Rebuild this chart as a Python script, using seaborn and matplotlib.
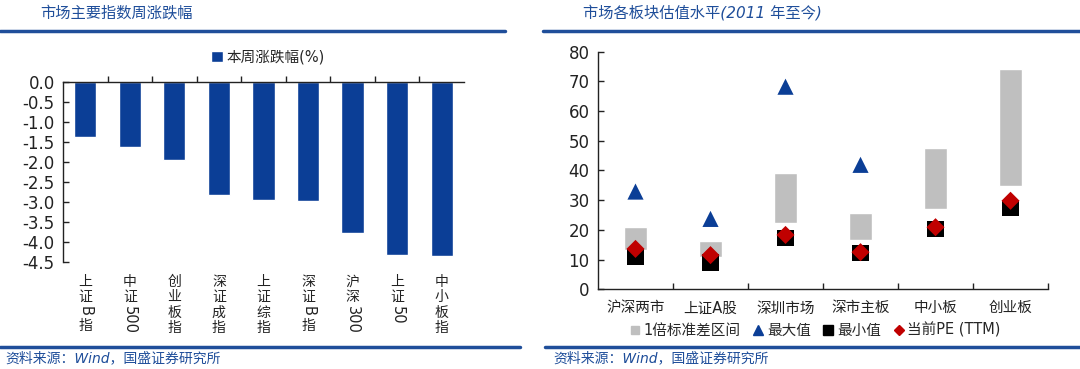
import re
import numpy as np
import pandas as pd
import matplotlib
matplotlib.use("Agg")
import matplotlib.pyplot as plt
import matplotlib.transforms as mtransforms
from matplotlib.font_manager import FontProperties
import seaborn as sns
from matplotlib.lines import Line2D

# ---------------- data ----------------
idx_names = ["上证B指", "中证500", "创业板指", "深证成指", "上证综指", "深证B指", "沪深300", "上证50", "中小板指"]
idx_change = [-1.38, -1.63, -1.95, -2.84, -2.95, -2.97, -3.79, -4.33, -4.35]
left_yticks = [0.0, -0.5, -1.0, -1.5, -2.0, -2.5, -3.0, -3.5, -4.0, -4.5]

boards = ["沪深两市", "上证A股", "深圳市场", "深市主板", "中小板", "创业板"]
std_low = [13.2, 10.8, 22.4, 16.6, 26.9, 34.8]
std_high = [21.1, 16.3, 39.0, 25.8, 47.5, 74.0]
pe_max = [32.9, 23.7, 68.2, 41.9, np.nan, np.nan]
pe_min = [11.0, 9.0, 17.2, 12.1, 20.2, 27.3]
pe_now = [13.6, 11.5, 18.3, 12.5, 20.9, 29.8]
right_yticks = [0, 10, 20, 30, 40, 50, 60, 70, 80]

# ---------------- style ----------------
sns.set_theme(style="white")
plt.rcParams['font.family'] = ['DejaVu Sans', 'Noto Sans CJK SC']
plt.rcParams['axes.unicode_minus'] = False

BLUE = "#0B3E96"
LINE_BLUE = "#1F4E9A"
GRAY = "#BFBFBF"
RED = "#C00000"
DARK = "#222222"

fig = plt.figure(figsize=(10.8, 3.69), dpi=100)
renderer = fig.canvas.get_renderer()

# ---------------- left chart ----------------
axL = fig.add_axes([0.0583, 0.291, 0.3713, 0.486])
dfL = pd.DataFrame({"name": idx_names, "chg": idx_change})
sns.barplot(data=dfL, x="name", y="chg", color=BLUE, width=0.5, ax=axL,
            saturation=1, label="本周涨跌幅(%)")
axL.set_ylim(-4.5, 0)
axL.set_xlim(-0.5, len(idx_names) - 0.5)
axL.set_yticks(left_yticks)
axL.set_yticklabels([f"{v:.1f}" for v in left_yticks], fontsize=12, color=DARK)
axL.set_xlabel("")
axL.set_ylabel("")
for s in ["right", "bottom"]:
    axL.spines[s].set_visible(False)
for s in ["left", "top"]:
    axL.spines[s].set_color(DARK)
    axL.spines[s].set_linewidth(1.0)
axL.set_xticks(range(len(idx_names)))
axL.set_xticklabels([])
axL.tick_params(axis="x", bottom=False, top=False, length=0)
axL.set_xticks(np.arange(0.5, len(idx_names) - 0.5, 1.0), minor=True)
axL.tick_params(axis="x", which="minor", top=True, bottom=False, direction="out",
                length=4, width=1, color=DARK)
axL.tick_params(axis="y", left=True, direction="in", length=4, width=1,
                color=DARK, pad=6)

# vertical category labels: CJK characters stacked, latin/digit runs rotated
blend = mtransforms.blended_transform_factory(axL.transData, axL.transAxes)
latin_prop = FontProperties(family="DejaVu Sans", size=10.5)
CJK_PITCH = 15.5
for i, name in enumerate(idx_names):
    tokens = re.findall(r"[A-Za-z0-9]+|.", name)
    y_off = -13.0
    for tok in tokens:
        is_latin = bool(re.match(r"[A-Za-z0-9]", tok))
        tr = mtransforms.offset_copy(blend, fig=fig, x=0, y=y_off, units="dots")
        if is_latin:
            w, h, d = renderer.get_text_width_height_descent(tok, latin_prop, ismath=False)
            axL.text(i, 0, tok, transform=tr, ha="center", va="top", rotation=-90,
                     fontproperties=latin_prop, color=DARK, clip_on=False)
            y_off -= w + 3
        else:
            axL.text(i, 0, tok, transform=tr, ha="center", va="top", fontsize=10,
                     family=["Noto Sans CJK SC"], color=DARK, clip_on=False)
            y_off -= CJK_PITCH

axL.legend(loc="center", bbox_to_anchor=(268 / 1080, 1 - 57 / 369),
           bbox_transform=fig.transFigure, frameon=False, fontsize=10.5,
           handlelength=0.8, handleheight=0.8, handletextpad=0.3)

# ---------------- right chart ----------------
axR = fig.add_axes([0.5537, 0.216, 0.4167, 0.644])
x = np.arange(len(boards))
axR.bar(x, np.array(std_high) - np.array(std_low), bottom=std_low, width=0.31,
        color=GRAY, zorder=2)
dfR = pd.DataFrame({"x": x, "max": pe_max, "min": pe_min, "now": pe_now})
sns.scatterplot(data=dfR, x="x", y="min", marker="s", s=135, color="black",
                edgecolor="none", ax=axR, zorder=3)
sns.scatterplot(data=dfR, x="x", y="now", marker="D", s=85, color=RED,
                edgecolor="none", ax=axR, zorder=4)
sns.scatterplot(data=dfR, x="x", y="max", marker="^", s=135, color=BLUE,
                edgecolor="none", ax=axR, zorder=4)
axR.set_ylim(0, 80)
axR.set_xlim(-0.5, len(boards) - 0.5)
axR.set_yticks(right_yticks)
axR.set_yticklabels([str(v) for v in right_yticks], fontsize=12, color=DARK)
axR.set_xticks(x)
axR.set_xticklabels(boards, fontsize=10.5, color=DARK)
axR.tick_params(axis="x", bottom=True, length=0, pad=8)
axR.set_xticks(np.arange(0.5, len(boards), 1.0), minor=True)
axR.tick_params(axis="x", which="minor", bottom=True, direction="in", length=4,
                width=1, color=DARK)
axR.tick_params(axis="y", left=True, direction="in", length=4, width=1,
                color=DARK, pad=6)
axR.set_xlabel("")
axR.set_ylabel("")
for s in ["right", "top"]:
    axR.spines[s].set_visible(False)
for s in ["left", "bottom"]:
    axR.spines[s].set_color(DARK)
    axR.spines[s].set_linewidth(1.0)

handles = [
    Line2D([], [], marker="s", linestyle="none", color=GRAY, markersize=6),
    Line2D([], [], marker="^", linestyle="none", color=BLUE, markersize=7),
    Line2D([], [], marker="s", linestyle="none", color="black", markersize=7),
    Line2D([], [], marker="D", linestyle="none", color=RED, markersize=5),
]
labels = ["1倍标准差区间", "最大值", "最小值", "当前PE (TTM)"]
axR.legend(handles, labels, loc="center", bbox_to_anchor=(815 / 1080, 1 - 330 / 369),
           bbox_transform=fig.transFigure, ncol=4, frameon=False, fontsize=10.5,
           handlelength=0.8, handletextpad=0.2, columnspacing=0.8)

# ---------------- titles, rules, footers ----------------
fig.text(40 / 1080, 1 - 13 / 369, "市场主要指数周涨跌幅", fontsize=11, color=LINE_BLUE,
         style="italic", va="center", ha="left")
fig.text(583 / 1080, 1 - 13 / 369, "市场各板块估值水平(2011 年至今)", fontsize=11,
         color=LINE_BLUE, style="italic", va="center", ha="left")
for (x0, x1) in [(0.0, 505 / 1080), (543 / 1080, 1.0)]:
    fig.add_artist(Line2D([x0, x1], [1 - 31 / 369] * 2, transform=fig.transFigure,
                          color=LINE_BLUE, lw=2.5))
for (x0, x1) in [(0.0, 520 / 1080), (545 / 1080, 1.0)]:
    fig.add_artist(Line2D([x0, x1], [1 - 347 / 369] * 2, transform=fig.transFigure,
                          color=LINE_BLUE, lw=2.5))
fig.text(5 / 1080, 1 - 358 / 369, "资料来源：Wind，国盛证券研究所", fontsize=10,
         color=LINE_BLUE, style="italic", va="center", ha="left")
fig.text(553 / 1080, 1 - 358 / 369, "资料来源：Wind，国盛证券研究所", fontsize=10,
         color=LINE_BLUE, style="italic", va="center", ha="left")

fig.savefig("out.png", dpi=100)
